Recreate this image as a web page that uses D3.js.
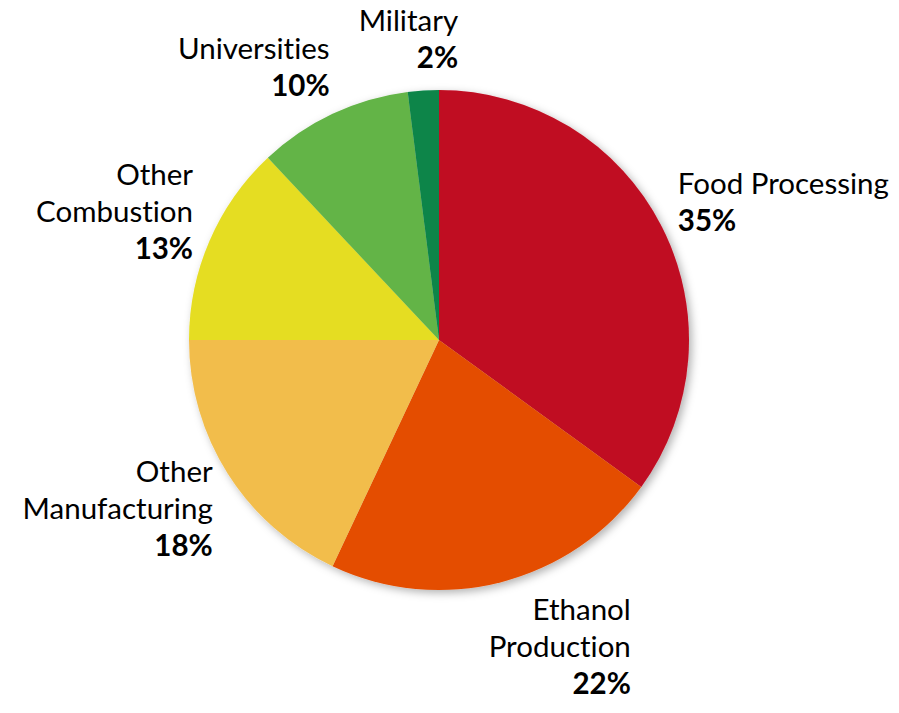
<!DOCTYPE html>
<html lang="en">
<head>
<meta charset="UTF-8">
<title>Pie</title>
<script src="https://d3js.org/d3.v7.min.js"></script>
<style>
  body { margin: 0; background: #fff; }
  text { font-family: Lato, "Open Sans", sans-serif; fill: #000; font-variant-ligatures: none; }
</style>
</head>
<body>
<div id="chart"></div>
<script>
// data
const categories = ["Food Processing", "Ethanol Production", "Other Manufacturing",
                    "Other Combustion", "Universities", "Military"];
const labelLines = [["Food Processing"], ["Ethanol", "Production"], ["Other", "Manufacturing"],
                    ["Other", "Combustion"], ["Universities"], ["Military"]];
const values = [35, 22, 18, 13, 10, 2];
const colors = ["#c00a20", "#e44e02", "#f2bd4c", "#e5dd24", "#63b446", "#0a8549"];

const width = 899, height = 713;
const cx = 439, cy = 340, R = 250;
const fontSize = 29.5, lineH = 37, capH = 22;

let svg = d3.select("#chart").append("svg")
    .attr("width", width)
    .attr("height", height);

// soft excel-ish shadow
let defs = svg.append("defs");
defs.append("filter")
    .attr("id", "shadow")
    .attr("x", "-10%").attr("y", "-10%").attr("width", "120%").attr("height", "120%")
  .append("feDropShadow")
    .attr("dx", 3).attr("dy", 3)
    .attr("stdDeviation", 4)
    .attr("flood-color", "#000")
    .attr("flood-opacity", 0.3);

let color = d3.scaleOrdinal().domain(categories).range(colors);

let arcs = d3.pie().sort(null).value(d => d.value)(
    categories.map((c, i) => ({ name: c, value: values[i], lines: labelLines[i] })));

let arc = d3.arc().innerRadius(0).outerRadius(R);

let g = svg.append("g").attr("transform", `translate(${cx},${cy})`);

g.append("g")
    .attr("filter", "url(#shadow)")
  .selectAll("path")
  .data(arcs)
  .enter()
  .append("path")
    .attr("d", arc)
    .attr("fill", d => color(d.data.name));

// labels: place the label block just outside the slice, along its mid angle
let labels = g.selectAll("text.lbl")
  .data(arcs)
  .enter()
  .append("text")
    .attr("class", "lbl")
    .attr("font-size", fontSize);

labels.each(function (d) {
    let t = d3.select(this);
    let lines = d.data.lines.concat([d.data.value + "%"]);
    lines.forEach((l, i) => {
        t.append("tspan")
            .attr("x", 0)
            .attr("dy", i == 0 ? 0 : lineH)
            .attr("font-weight", i == lines.length - 1 ? 700 : 400)
            .text(l);
    });
    let w = this.getBBox().width;
    let h = capH + (lines.length - 1) * lineH + 5;
    let a = (d.startAngle + d.endAngle) / 2;
    let s = Math.sin(a), c = Math.cos(a);
    let px = (R + 18) * s, py = -(R + 18) * c;
    let left;
    if (s >= 0) left = px - w * Math.pow(1 - s, 5) / 2;
    else left = px + w * Math.pow(1 + s, 5) / 2 - w;
    let top = py - h * (1 + c) / 2;
    let anchor = s > 0.5 ? "start" : "end";
    let x = anchor == "start" ? left : left + w;
    t.attr("text-anchor", anchor)
     .attr("y", top + capH);
    t.selectAll("tspan").attr("x", x);
});
</script>
</body>
</html>
